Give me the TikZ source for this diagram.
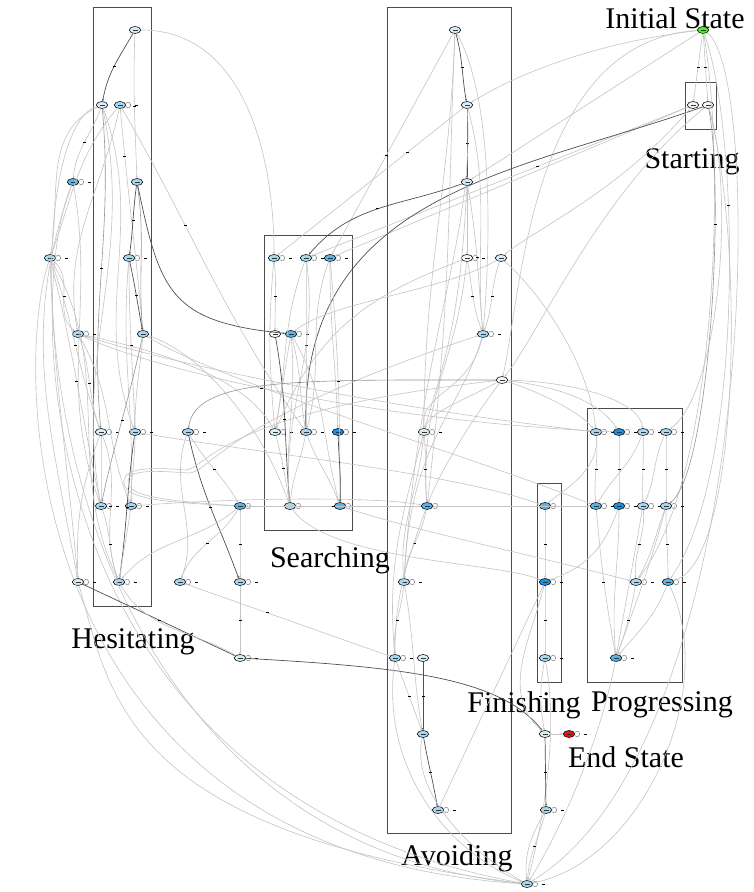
\documentclass[tikz,border=0pt]{standalone}
\usepackage{fontspec}
\setmainfont{Liberation Serif}
\usetikzlibrary{shapes.geometric,arrows.meta}
\definecolor{nw}{HTML}{F2F8FC}
\definecolor{na}{HTML}{D6EEFA}
\definecolor{nb}{HTML}{A6D8F3}
\definecolor{nc}{HTML}{58B4EA}
\definecolor{nd}{HTML}{1F8FE0}
\definecolor{ngreen}{HTML}{44EE22}
\definecolor{nred}{HTML}{EE1111}
\definecolor{lgray}{HTML}{C4C4C4}
\definecolor{mgray}{HTML}{949494}
\definecolor{dgray}{HTML}{505050}
\tikzset{
  tip/.style={-{Stealth[length=2.4pt,width=2pt]}},
  le/.style={draw=lgray, line width=0.6pt, tip},
  md/.style={draw=mgray, line width=0.6pt, tip},
  dk/.style={draw=dgray, line width=0.7pt, tip},
  lp/.style={draw=black!55, line width=0.45pt},
  mk/.style={rectangle, fill=black, inner sep=0pt, minimum width=3pt, minimum height=0.9pt},
  st/.style={ellipse, draw=black, line width=0.55pt, minimum width=11.5pt, minimum height=7pt, inner sep=0pt,
    path picture={\fill[black!80] ([xshift=-2.5pt,yshift=-0.4pt]path picture bounding box.center) rectangle ([xshift=2.5pt,yshift=0.4pt]path picture bounding box.center);}},
  cl/.style={draw=black!70, line width=0.8pt},
  big/.style={font=\fontsize{30}{30}\selectfont, inner sep=0pt}
}
% state node: name, x, y, fill
\newcommand{\stt}[4]{\node[st, fill=#4] (#1) at (#2,#3) {};}
% small loop on the east side of a state, with its label mark
\newcommand{\selfloop}[1]{\draw[lp] (#1.15) .. controls +(7,5) and +(7,-5) .. (#1.-15);
  \node[mk, minimum width=2.5pt] at ([xshift=10.5pt]#1.east) {};}
\begin{document}
\begin{tikzpicture}[x=1pt,y=1pt]
\useasboundingbox (0,0) rectangle (753,892);
\fill[white] (0,0) rectangle (753,892);

% clusters
\draw[cl] (93,286) rectangle (151,885);   % Hesitating
\draw[cl] (264,362) rectangle (352,657);  % Searching
\draw[cl] (387,59) rectangle (511,885);   % Avoiding
\draw[cl] (685,763) rectangle (716,810);  % Starting
\draw[cl] (537,210) rectangle (561,409);  % Finishing
\draw[cl] (587,210) rectangle (682,484);  % Progressing

\node[big] (tinit) at (675,874) {Initial State};
\node[big] (tstart) at (692,730) {Starting};
\node[big] (thes) at (133,250) {Hesitating};
\node[big] (tsea) at (330,332) {Searching};
\node[big] (tfin) at (524,187) {Finishing};
\node[big] (tprog) at (662,187) {Progressing};
\node[big] (tend) at (626,135) {End State};
\node[big] (tavo) at (457,34) {Avoiding};

% states
\stt{init}{703}{862}{ngreen}
\stt{st1}{693}{787}{nw}
\stt{st2}{708}{787}{nw}
\stt{h1}{135}{862}{na}
\stt{h2}{102}{787}{na}
\stt{h3}{120}{787}{nb}
\stt{h4}{73}{710}{nc}
\stt{h5}{137}{710}{nb}
\stt{h6}{50}{634}{nb}
\stt{h7}{129}{634}{nb}
\stt{h8}{78}{558}{nb}
\stt{h9}{143}{558}{nb}
\stt{h10}{101}{460}{na}
\stt{h11}{135}{460}{nb}
\stt{h12}{188}{460}{nb}
\stt{h13}{101}{386}{nb}
\stt{h14}{131}{386}{nb}
\stt{h15}{240}{386}{nc}
\stt{h16}{78}{310}{na}
\stt{h17}{119}{310}{nb}
\stt{h18}{180}{310}{nb}
\stt{h19}{240}{310}{nb}
\stt{h20}{240}{234}{na}
\stt{s1}{274}{634}{nb}
\stt{s2}{306}{634}{nb}
\stt{s3}{330}{634}{nc}
\stt{s4}{275}{558}{nw}
\stt{s5}{291}{558}{nc}
\stt{s6}{275}{460}{na}
\stt{s7}{306}{460}{nb}
\stt{s8}{338}{460}{nd}
\stt{s9}{290}{386}{nb}
\stt{s10}{340}{386}{nc}
\stt{a1}{455}{862}{na}
\stt{a2}{467}{787}{na}
\stt{a3}{467}{710}{na}
\stt{a4}{467}{634}{nw}
\stt{a5}{501}{634}{na}
\stt{a6}{483}{558}{nb}
\stt{a7}{502}{512}{nw}
\stt{a8}{424}{460}{na}
\stt{a9}{427}{386}{nc}
\stt{a10}{404}{310}{nb}
\stt{a11}{395}{234}{nb}
\stt{a12}{423}{234}{na}
\stt{a13}{423}{158}{nb}
\stt{a14}{438}{82}{nb}
\stt{f0}{545}{386}{nc}
\stt{f1}{545}{310}{nd}
\stt{f2}{545}{234}{nb}
\stt{p1}{596}{460}{nb}
\stt{p2}{619}{460}{nd}
\stt{p3}{643}{460}{nb}
\stt{p4}{666}{460}{nb}
\stt{p5}{596}{386}{nc}
\stt{p6}{619}{386}{nd}
\stt{p7}{643}{386}{nb}
\stt{p8}{666}{386}{nb}
\stt{p9}{636}{310}{nb}
\stt{p10}{668}{310}{nc}
\stt{p11}{616}{234}{nc}
\stt{e1}{545}{158}{na}
\stt{endst}{569}{158}{nred}
\stt{e2}{546}{82}{nb}
\stt{bot}{527}{8}{nb}

\foreach \n in {h3,h4,h6,h7,h8,h10,h11,h12,h13,h14,h15,h16,h17,h18,h19,h20,
  s1,s2,s3,s5,s6,s7,s8,s9,s10,a4,a6,a8,a9,a10,a11,a14,f0,f1,f2,
  p1,p2,p3,p4,p5,p6,p7,p8,p9,p10,p11,endst,e2,bot}{\selfloop{\n}}

% ---- transitions: initial state and starting
\draw[le] (init) to node[mk]{} (st1);
\draw[le] (init) to node[mk]{} (st2);
\draw[le] (init) .. controls (600,850) and (520,820) .. (a2);
\draw[le] (init) -- (a3);
\draw[le] (init) .. controls (530,850) and (522,600) .. (a7);
\draw[le] (init) .. controls (740,760) and (745,420) .. node[mk,pos=0.35]{} (p10);
\draw[le] (init) .. controls (725,740) and (720,420) .. (p9);
\draw[le] (init) .. controls (765,820) and (760,150) .. (bot);
\draw[le] (st1) -- node[mk,pos=0.4]{} (s2);
\draw[le] (st1) -- (s3);
\draw[dk] (st2) .. controls (520,720) and (300,700) .. (s7);
\draw[le] (st2) .. controls (600,700) and (540,560) .. (a7);
\draw[md] (st2) .. controls (725,700) and (710,420) .. node[mk,pos=0.3]{} (p8);
\draw[le] (st2) .. controls (735,700) and (720,500) .. (p4);
\draw[le] (st2) .. controls (745,650) and (740,330) .. (p10);
\draw[le] (st1) .. controls (620,700) and (530,660) .. (a5);

% ---- Hesitating
\draw[dk] (h1) to[out=240,in=80] node[mk]{} (h2);
\draw[le] (h1) to[out=268,in=92] node[mk]{} (h5);
\draw[le] (h1) to[out=0,in=90] (s1);
\draw[le] (h2) to[out=250,in=85] node[mk]{} (h4);
\draw[le] (h2) to[out=205,in=80] (h6);
\draw[md] (h2) to[out=275,in=95] node[mk]{} (h10);
\draw[le] (h2) to[out=282,in=100] (h13);
\draw[le] (h2) to[out=290,in=110] (h11);
\draw[le] (h2) .. controls (8,760) and (5,60) .. (bot);
\draw[le] (h3) to[out=230,in=70] (h6);
\draw[le] (h3) to[out=300,in=125] node[mk,pos=0.35]{} (s7);
\draw[le] (h3) to[out=258,in=100] (h8);
\draw[le] (h3) to[out=275,in=95] node[mk,pos=0.2]{} (h9);
\draw[dk] (h5) to[out=262,in=82] node[mk]{} (h7);
\draw[md] (h5) to[out=278,in=95] (h9);
\draw[dk] (h5) .. controls (160,600) and (170,570) .. (s5);
\draw[le] (h4) to[out=250,in=100] (h16);
\draw[le] (h4) to[out=280,in=110] (h13);
\draw[le] (h4) .. controls (25,600) and (25,100) .. (bot);
\draw[le] (h6) to[out=290,in=110] node[mk]{} (h10);
\draw[le] (h6) to[out=284,in=102] node[mk]{} (h13);
\draw[le] (h6) to[out=272,in=95] (h16);
\draw[le] (h6) to[out=300,in=115] (h17);
\draw[le] (h6) to[out=320,in=140] node[mk]{} (h8);
\draw[le] (h6) .. controls (12,520) and (20,40) .. (bot);
\draw[dk] (h7) to[out=282,in=100] node[mk]{} (h9);
\draw[le] (h7) to[out=270,in=92] node[mk]{} (h11);
\draw[le] (h7) to[out=265,in=88] (h14);
\draw[le] (h8) to[out=290,in=110] node[mk]{} (h10);
\draw[le] (h8) to[out=300,in=112] (h14);
\draw[le] (h8) .. controls (200,520) and (420,480) .. (p1);
\draw[le] (h8) .. controls (190,535) and (250,505) .. (s6);
\draw[le] (h8) .. controls (160,520) and (380,470) .. node[mk,pos=0.45]{} (p2);
\draw[md] (h9) to[out=258,in=78] node[mk]{} (h13);
\draw[le] (h9) to[out=265,in=90] (h11);
\draw[le] (h9) .. controls (220,510) and (460,440) .. (p5);
\draw[le] (h9) .. controls (200,540) and (260,470) .. (s9);
\draw[le] (h10) to[out=270,in=90] (h13);
\draw[le] (h10) to[out=292,in=110] node[mk]{} (h17);
\draw[le] (h10) to[out=250,in=92] (h16);
\draw[dk] (h11) to[out=262,in=82] node[mk]{} (h17);
\draw[le] (h11) to[out=270,in=90] (h14);
\draw[le] (h11) .. controls (250,440) and (450,420) .. (f0);
\draw[dk] (h12) to[out=282,in=110] node[mk]{} (h19);
\draw[le] (h12) to[out=300,in=120] node[mk]{} (h15);
\draw[le] (h12) to[out=250,in=70] (h18);
\draw[le] (h13) to[out=290,in=110] node[mk]{} (h17);
\draw[le] (h14) to[out=262,in=82] (h17);
\draw[le] (h14) .. controls (250,395) and (380,395) .. (a9);
\draw[le] (h15) to[out=270,in=90] node[mk]{} (h19);
\draw[le] (h15) to[out=240,in=70] node[mk]{} (h18);
\draw[le] (h15) to[out=220,in=50] (h17);
\draw[le] (h15) .. controls (150,390) and (122,395) .. (124,412) .. controls (126,426) and (160,424) .. (185,422) .. controls (205,421) and (215,480) .. (a7);
\draw[le] (h15) .. controls (150,392) and (126,398) .. (128,412) .. controls (130,423) and (160,421) .. (188,419) .. controls (210,418) and (218,470) .. (a6);
\draw[dk] (h16) -- node[mk]{} (h20);
\draw[le] (h16) .. controls (110,200) and (120,60) .. (bot);
\draw[le] (h17) to[out=300,in=150] (h20);
\draw[le] (h18) -- node[mk,pos=0.4]{} (a11);
\draw[le] (h19) -- node[mk]{} (h20);
\draw[dk] (h20) .. controls (400,225) and (500,215) .. (e1);

% ---- Searching
\draw[le] (s1) to[out=275,in=90] node[mk]{} (s4);
\draw[le] (s1) to[out=265,in=95] (s6);
\draw[le] (s2) to[out=270,in=90] node[mk]{} (s7);
\draw[le] (s2) to[out=278,in=95] (s9);
\draw[le] (s2) to[out=250,in=80] (s6);
\draw[le] (s3) to[out=275,in=90] node[mk]{} (s10);
\draw[le] (s3) to[out=270,in=92] (s8);
\draw[le] (s3) to[out=250,in=75] (s7);
\draw[dk] (s4) to[out=280,in=95] node[mk]{} (s9);
\draw[le] (s5) to[out=260,in=80] (s6);
\draw[le] (s5) to[out=285,in=100] node[mk]{} (s7);
\draw[le] (s5) to[out=300,in=105] (s10);
\draw[le] (s5) to[out=275,in=95] (s9);
\draw[le] (s6) to[out=285,in=100] node[mk]{} (s9);
\draw[le] (s7) to[out=290,in=110] (s10);
\draw[le] (s7) to[out=260,in=85] (s9);
\draw[dk] (s8) to[out=272,in=88] (s10);
\draw[le] (s9) .. controls (330,330) and (500,330) .. (f1);
\draw[le] (s10) .. controls (420,360) and (520,340) .. (p9);

% ---- Avoiding
\draw[dk] (a1) to[out=285,in=100] node[mk]{} (a2);
\draw[le] (a1) -- node[mk,pos=0.55]{} (s3);
\draw[le] (a1) to[out=268,in=90] (a8);
\draw[le] (a1) .. controls (495,790) and (490,640) .. (a6);
\draw[le] (a1) .. controls (448,700) and (452,600) .. (a9);
\draw[dk] (a2) -- node[mk]{} (a3);
\draw[le] (a2) -- node[mk,pos=0.3]{} (s1);
\draw[le] (a2) to[out=285,in=95] (a6);
\draw[le] (a2) .. controls (475,650) and (420,560) .. (a10);
\draw[dk] (a3) to[out=200,in=50] node[mk]{} (s2);
\draw[le] (a3) -- (a4);
\draw[le] (a3) to[out=280,in=95] node[mk]{} (a6);
\draw[le] (a3) .. controls (460,560) and (440,520) .. (a8);
\draw[le] (a4) to[out=280,in=110] node[mk]{} (a6);
\draw[le] (a4) .. controls (455,520) and (420,500) .. (a9);
\draw[le] (a4) .. controls (380,600) and (320,570) .. (s6);
\draw[le] (a5) to[out=250,in=70] node[mk]{} (a6);
\draw[le] (a5) .. controls (440,600) and (330,590) .. (s5);
\draw[le] (a5) .. controls (550,590) and (590,520) .. (p1);
\draw[le] (a6) .. controls (470,500) and (420,500) .. (a8);
\draw[le] (a6) .. controls (460,480) and (410,450) .. (a10);
\draw[md] (a7.west) .. controls (300,512) and (195,515) .. (h12);
\draw[le] (a7) .. controls (460,490) and (430,480) .. (a8);
\draw[le] (a7) .. controls (470,470) and (440,420) .. (a9);
\draw[le] (a7) .. controls (540,500) and (580,480) .. (p1);
\draw[le] (a7) .. controls (560,505) and (600,490) .. (p2);
\draw[le] (a7) .. controls (580,510) and (640,490) .. (p3);
\draw[le] (a8) to[out=275,in=95] node[mk]{} (a9);
\draw[le] (a8) to[out=265,in=95] (a10);
\draw[le] (a8) to[out=255,in=95] (a11);
\draw[le] (a9) to[out=260,in=85] node[mk]{} (a10);
\draw[le] (a9) to[out=250,in=90] (a11);
\draw[le] (a9) -- node[mk]{} (h15);
\draw[le] (a9) -- (p5);
\draw[le] (a10) to[out=265,in=95] node[mk]{} (a11);
\draw[le] (a10) to[out=280,in=100] (a13);
\draw[le] (a11) to[out=290,in=110] node[mk]{} (a13);
\draw[le] (a11) .. controls (380,120) and (450,40) .. (bot);
\draw[dk] (a12) -- node[mk]{} (a13);
\draw[dk] (a13) to[out=280,in=100] node[mk]{} (a14);
\draw[le] (a13) .. controls (410,100) and (470,40) .. (bot);
\draw[le] (a14) -- (f1);

% ---- Progressing and Finishing
\draw[le] (p1) to[out=275,in=95] node[mk]{} (p5);
\draw[le] (p2) to[out=270,in=90] node[mk]{} (p6);
\draw[le] (p3) to[out=272,in=92] node[mk]{} (p7);
\draw[le] (p4) to[out=270,in=90] node[mk]{} (p8);
\draw[le] (p3) to[out=250,in=60] (p5);
\draw[le] (p4) to[out=245,in=65] (p7);
\draw[le] (p1) .. controls (600,420) and (560,400) .. (f0);
\draw[le] (p5) to[out=275,in=100] node[mk]{} (p11);
\draw[le] (p6) to[out=270,in=95] (p11);
\draw[le] (p7) to[out=275,in=95] node[mk]{} (p9);
\draw[le] (p8) to[out=270,in=90] node[mk]{} (p10);
\draw[le] (p7) to[out=260,in=80] (p11);
\draw[le] (p8) to[out=250,in=60] (p9);
\draw[le] (p8) to[out=255,in=70] (p11);
\draw[le] (p9) to[out=260,in=70] node[mk]{} (p11);
\draw[le] (p10) to[out=250,in=50] (p11);
\draw[le] (p6) .. controls (600,330) and (570,320) .. (f1);
\draw[le] (p11) .. controls (600,150) and (560,60) .. (bot);
\draw[le] (p10) .. controls (720,200) and (640,30) .. (bot);
\draw[le] (f0) to[out=270,in=90] node[mk]{} (f1);
\draw[le] (f1) to[out=270,in=90] node[mk]{} (f2);
\draw[le] (f1) .. controls (530,250) and (500,200) .. (e1);
\draw[le] (f2) to[out=260,in=100] node[mk]{} (e1);
\draw[le] (f2) .. controls (560,150) and (540,60) .. (bot);
\draw[le] (e1) -- (endst);
\draw[dk] (e1) -- node[mk]{} (e2);
\draw[le] (e2) to[out=255,in=85] node[mk]{} (bot);
\draw[le] (e2) to[out=240,in=95] (bot);
\end{tikzpicture}
\end{document}
